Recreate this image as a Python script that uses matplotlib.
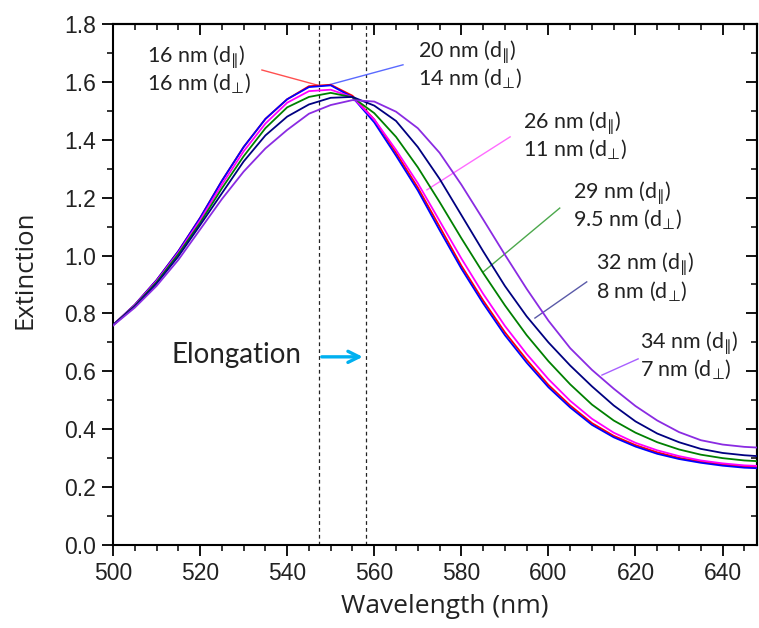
import numpy as np
import matplotlib.pyplot as plt
from matplotlib.ticker import MultipleLocator

# wavelength grid (nm) and extinction
wl = np.arange(500, 651, 5)

ext_16 = [0.76, 0.83, 0.915, 1.015, 1.13, 1.258, 1.375, 1.472, 1.54, 1.585, 1.59,
          1.552, 1.47, 1.355, 1.235, 1.1, 0.965, 0.845, 0.735, 0.64, 0.553, 0.482,
          0.421, 0.377, 0.345, 0.32, 0.301, 0.288, 0.278, 0.271, 0.268]
ext_20 = [0.76, 0.83, 0.915, 1.015, 1.13, 1.258, 1.375, 1.472, 1.54, 1.582, 1.588,
          1.547, 1.46, 1.345, 1.225, 1.088, 0.955, 0.835, 0.725, 0.63, 0.545, 0.475,
          0.415, 0.372, 0.34, 0.315, 0.297, 0.284, 0.274, 0.267, 0.264]
ext_26 = [0.76, 0.828, 0.912, 1.01, 1.122, 1.245, 1.36, 1.456, 1.528, 1.568, 1.573,
          1.547, 1.47, 1.365, 1.25, 1.12, 0.99, 0.868, 0.757, 0.66, 0.573, 0.498,
          0.436, 0.388, 0.353, 0.327, 0.307, 0.292, 0.282, 0.275, 0.272]
ext_29 = [0.76, 0.826, 0.908, 1.005, 1.113, 1.232, 1.343, 1.44, 1.512, 1.548, 1.562,
          1.547, 1.492, 1.41, 1.305, 1.185, 1.06, 0.94, 0.828, 0.725, 0.635, 0.555,
          0.485, 0.43, 0.388, 0.355, 0.33, 0.312, 0.3, 0.292, 0.288]
ext_32 = [0.76, 0.824, 0.903, 0.997, 1.105, 1.215, 1.325, 1.415, 1.48, 1.522, 1.545,
          1.548, 1.518, 1.465, 1.375, 1.265, 1.14, 1.015, 0.895, 0.79, 0.7, 0.62,
          0.548, 0.482, 0.427, 0.385, 0.355, 0.332, 0.318, 0.31, 0.305]
ext_34 = [0.758, 0.82, 0.895, 0.985, 1.09, 1.195, 1.29, 1.37, 1.434, 1.49, 1.52,
          1.537, 1.532, 1.497, 1.44, 1.355, 1.245, 1.125, 1.003, 0.885, 0.775, 0.68,
          0.605, 0.54, 0.48, 0.43, 0.39, 0.362, 0.347, 0.339, 0.335]

series = [ext_16, ext_20, ext_26, ext_29, ext_32, ext_34]
colors = ['#ff0000', '#0000ff', '#ff00ff', '#008000', '#000080', '#8a2be2']
leader_colors = ['#ff5050', '#5a6aff', '#ff6cff', '#4ca84c', '#5a5aa8', '#a860ff']
d_par = ['16 nm', '20 nm', '26 nm', '29 nm', '32 nm', '34 nm']
d_perp = ['16 nm', '14 nm', '11 nm', '9.5 nm', '8 nm', '7 nm']

# label anchors (left x, first-line y) and leader lines (data coords)
text_pos = [(507.8, 1.686), (570.0, 1.703), (594.1, 1.458),
            (605.6, 1.216), (610.9, 0.968), (621.0, 0.698)]
line_step = 0.094
leaders = [((534.2, 1.641), (546.9, 1.589)),
           ((566.6, 1.659), (549.4, 1.589)),
           ((591.2, 1.410), (572.1, 1.227)),
           ((602.6, 1.164), (585.0, 0.943)),
           ((608.8, 0.909), (596.9, 0.784)),
           ((620.6, 0.643), (612.3, 0.587))]

peak_lines = [547.3, 558.0]

plt.rcParams['font.family'] = ['Liberation Sans', 'DejaVu Sans']
plt.rcParams['mathtext.fontset'] = 'dejavusans'

fig = plt.figure(figsize=(7.59, 6.28), dpi=100)
ax = fig.add_axes([0.1489, 0.1322, 0.849, 0.8296])

for x in peak_lines:
    ax.axvline(x, color='#222222', ls=(0, (3, 2.5)), lw=0.9, zorder=1)

for y, c in zip(series, colors):
    ax.plot(wl, y, color=c, lw=1.3, zorder=3)

for (p0, p1), c in zip(leaders, leader_colors):
    ax.plot([p0[0], p1[0]], [p0[1], p1[1]], color=c, lw=1.0, zorder=2)

lab_font = ['Lato', 'DejaVu Sans']
for (x, y), a, b in zip(text_pos, d_par, d_perp):
    ax.text(x, y, a + ' (d$_{∥}$)', fontsize=15.5, family=lab_font,
            ha='left', va='center', color='#222222')
    ax.text(x, y - line_step, b + ' (d$_{⊥}$)', fontsize=15.5, family=lab_font,
            ha='left', va='center', color='#222222')

ax.text(543.4, 0.657, 'Elongation', fontsize=20, family=lab_font,
        ha='right', va='center', color='#222222')
ax.annotate('', xy=(558.0, 0.65), xytext=(547.3, 0.65),
            arrowprops=dict(arrowstyle='->', color='#00b0f0', lw=2.4,
                            mutation_scale=20))

ax.set_xlim(500, 648)
ax.set_ylim(0, 1.8)
ax.xaxis.set_major_locator(MultipleLocator(20))
ax.xaxis.set_minor_locator(MultipleLocator(5))
ax.yaxis.set_major_locator(MultipleLocator(0.2))
ax.yaxis.set_minor_locator(MultipleLocator(0.1))
ax.yaxis.set_major_formatter(plt.FuncFormatter(lambda v, p: f'{v:.1f}'))
ax.tick_params(axis='both', which='major', labelsize=16.5, length=8, width=1.3,
               direction='out', pad=4, labelcolor='#222222')
ax.tick_params(axis='both', which='minor', length=4.5, width=1.1, direction='out')

# top and right ticks point inward
sec_x = ax.secondary_xaxis('top')
sec_x.xaxis.set_major_locator(MultipleLocator(20))
sec_x.xaxis.set_minor_locator(MultipleLocator(5))
sec_x.tick_params(which='major', direction='in', length=8, width=1.3, labeltop=False)
sec_x.tick_params(which='minor', direction='in', length=4.5, width=1.1)
sec_y = ax.secondary_yaxis('right')
sec_y.yaxis.set_major_locator(MultipleLocator(0.2))
sec_y.yaxis.set_minor_locator(MultipleLocator(0.1))
sec_y.tick_params(which='major', direction='in', length=8, width=1.3, labelright=False)
sec_y.tick_params(which='minor', direction='in', length=4.5, width=1.1)

for s in ax.spines.values():
    s.set_linewidth(1.5)
sec_x.spines['top'].set_linewidth(1.5)
sec_y.spines['right'].set_linewidth(1.5)

ax.set_xlabel('Wavelength (nm)', fontsize=19, family=['Open Sans', 'DejaVu Sans'],
              color='#222222', va='center')
ax.set_ylabel('Extinction', fontsize=18.5, family=['Open Sans', 'DejaVu Sans'],
              color='#222222', va='center')
ax.xaxis.set_label_coords(0.515, -0.118)
ax.yaxis.set_label_coords(-0.137, 0.528)

fig.savefig('out.png', dpi=100)
